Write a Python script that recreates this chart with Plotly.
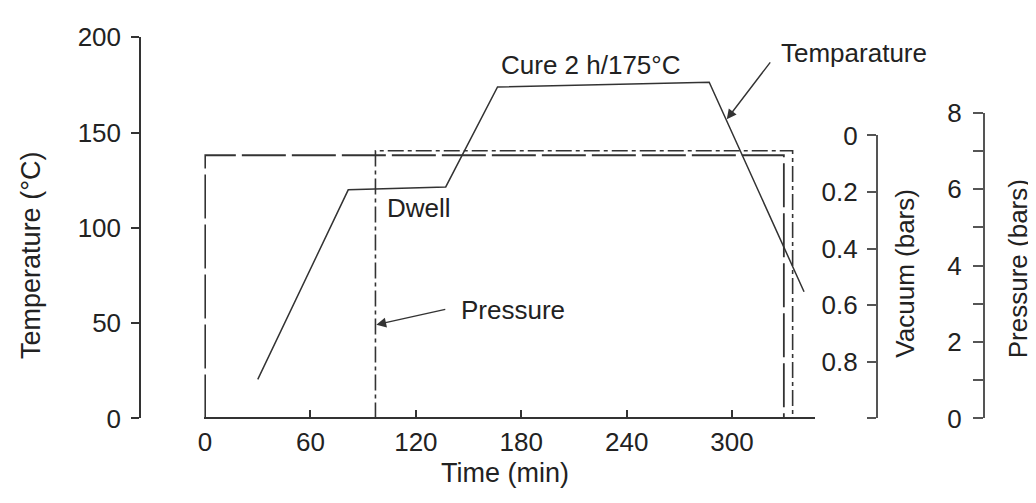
import plotly.graph_objects as go

# ---- data ----
temp_time = [30, 81.5, 137, 166.5, 287, 341]
temp_vals = [20.5, 120, 121.5, 174, 176.5, 66.5]

vac_time = [0, 0, 329.5, 329.5]
vac_vals = [1.0, 0.07, 0.07, 1.0]

pres_time = [97, 97, 334.5, 334.5]
pres_vals = [0, 7, 7, 0]

time_ticks = [0, 60, 120, 180, 240, 300]
temp_ticks = [0, 50, 100, 150, 200]
vac_ticks = [0, 0.2, 0.4, 0.6, 0.8, 1.0]
vac_ticktext = ["0", "0.2", "0.4", "0.6", "0.8", ""]
pres_ticks = [0, 1, 2, 3, 4, 5, 6, 7, 8]
pres_ticktext = ["0", "", "2", "", "4", "", "6", "", "8"]

# page has a default 8px body margin; size the figure to fit the window
OFF = 8
W, H = 1036 - OFF, 503 - OFF
FONT = "Liberation Sans, Arial, sans-serif"
TXT = "#222222"
LINE = "#333333"


def px(x):
    return (x - OFF) / W


def py(y):
    return 1 - (y - OFF) / H


x_axis_y = 429
fig = go.Figure()

fig.add_trace(go.Scatter(x=temp_time, y=temp_vals, mode="lines",
                         line=dict(color=LINE, width=1.5), xaxis="x", yaxis="y"))
fig.add_trace(go.Scatter(x=vac_time, y=vac_vals, mode="lines",
                         line=dict(color=LINE, width=1.8, dash="44px,6px"),
                         xaxis="x", yaxis="y2"))
fig.add_trace(go.Scatter(x=pres_time, y=pres_vals, mode="lines",
                         line=dict(color=LINE, width=1.6, dash="16px,4px,4px,4px"),
                         xaxis="x", yaxis="y3"))

tickfont = dict(family=FONT, size=26, color=TXT)

fig.update_layout(
    width=W, height=H,
    margin=dict(l=0, r=0, t=0, b=0),
    paper_bgcolor="white",
    plot_bgcolor="rgba(0,0,0,0)",
    showlegend=False,
    font=dict(family=FONT, size=26, color=TXT),
    xaxis=dict(
        domain=[px(199.4), px(814)],
        range=[-0.45, 347.4],
        anchor="free", position=py(x_axis_y),
        showline=True, linecolor=LINE, linewidth=2,
        ticks="inside", ticklen=7, tickwidth=1.5, tickcolor=LINE,
        tickvals=time_ticks, tickfont=tickfont,
        showgrid=False, zeroline=False,
    ),
    yaxis=dict(
        domain=[py(x_axis_y), py(23.3)],
        range=[0, 200],
        anchor="free", position=px(135),
        showline=True, linecolor=LINE, linewidth=2,
        ticks="outside", ticklen=8, tickwidth=1.5, tickcolor=LINE,
        tickvals=temp_ticks, tickfont=tickfont, ticklabelstandoff=5,
        showgrid=False, zeroline=False,
    ),
    yaxis4=dict(
        overlaying="y", range=[0, 200],
        anchor="free", position=px(135),
        showline=False, ticks="inside", ticklen=8, tickwidth=1.5, tickcolor=LINE,
        tickvals=temp_ticks, showticklabels=False,
        showgrid=False, zeroline=False,
    ),
    yaxis2=dict(
        domain=[py(x_axis_y), py(127.7)],
        range=[1, 0],
        anchor="free", position=px(875.7), side="left",
        showline=True, linecolor="#555555", linewidth=1.6,
        ticks="outside", ticklen=9, tickwidth=1.5, tickcolor="#555555",
        tickvals=vac_ticks, ticktext=vac_ticktext, tickfont=tickfont,
        ticklabelstandoff=4,
        showgrid=False, zeroline=False,
    ),
    yaxis3=dict(
        domain=[py(x_axis_y), py(103.3)],
        range=[0, 8],
        anchor="free", position=px(983.3), side="left",
        showline=True, linecolor="#555555", linewidth=1.6,
        ticks="outside", ticklen=10, tickwidth=1.5, tickcolor="#555555",
        tickvals=pres_ticks, ticktext=pres_ticktext, tickfont=tickfont,
        ticklabelstandoff=6,
        showgrid=False, zeroline=False,
    ),
)

ann = []
# axis titles
ann.append(dict(text="Temperature (°C)", xref="paper", yref="paper",
                x=px(25), y=py(255), textangle=-90, showarrow=False,
                xanchor="center", yanchor="middle", font=dict(size=27)))
ann.append(dict(text="Vacuum (bars)", xref="paper", yref="paper",
                x=px(904), y=py(274), textangle=-90, showarrow=False,
                xanchor="center", yanchor="middle", font=dict(size=26)))
ann.append(dict(text="Pressure (bars)", xref="paper", yref="paper",
                x=px(1018), y=py(270), textangle=-90, showarrow=False,
                xanchor="center", yanchor="middle", font=dict(size=26)))
ann.append(dict(text="Time (min)", xref="paper", yref="paper",
                x=px(502), y=py(487), showarrow=False,
                xanchor="center", yanchor="middle", font=dict(size=27)))

# in-plot labels
ann.append(dict(text="Vacuum", xref="x", yref="y", x=-4, y=150.5,
                showarrow=False, xanchor="left", yanchor="middle"))
ann.append(dict(text="Dwell", xref="x", yref="y", x=102.7, y=110.6,
                showarrow=False, xanchor="left", yanchor="middle"))
ann.append(dict(text="Pressure", xref="x", yref="y", x=144.8, y=57,
                showarrow=False, xanchor="left", yanchor="middle"))
ann.append(dict(text="Cure 2 h/175°C", xref="x", yref="y", x=219.6, y=185.4,
                showarrow=False, xanchor="center", yanchor="middle"))
ann.append(dict(text="Temparature", xref="x", yref="y", x=326.5, y=191.8,
                showarrow=False, xanchor="left", yanchor="middle"))

# arrows
ann.append(dict(text="", xref="x", yref="y", x=297, y=157,
                axref="x", ayref="y", ax=322.4, ay=187.7,
                showarrow=True, arrowhead=2, arrowsize=1.4, arrowwidth=1.4,
                arrowcolor=LINE, standoff=0))
ann.append(dict(text="", xref="x", yref="y", x=97.5, y=49.2,
                axref="x", ayref="y", ax=137.6, ay=57.4,
                showarrow=True, arrowhead=2, arrowsize=1.4, arrowwidth=1.4,
                arrowcolor=LINE, standoff=0))

fig.update_layout(annotations=ann)

fig.write_html("out.html")
